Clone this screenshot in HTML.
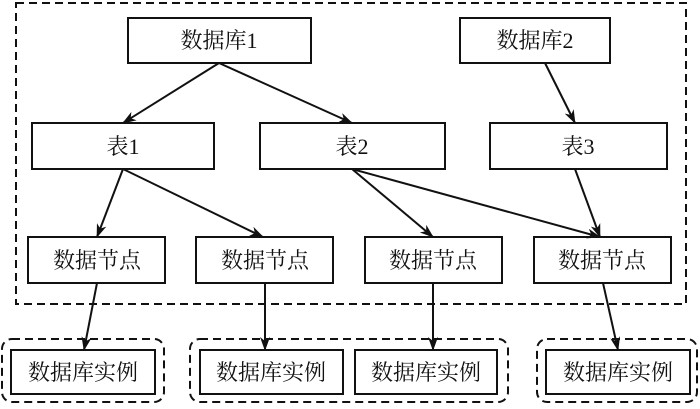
<!DOCTYPE html>
<html><head><meta charset="utf-8"><style>
html,body{margin:0;padding:0;background:#fff;}
text{font-family:"Liberation Serif","Noto Serif CJK SC",serif;font-size:22px;fill:#111;}
</style></head><body>
<svg width="700" height="404" viewBox="0 0 700 404" xmlns="http://www.w3.org/2000/svg">
<defs><marker id="a" markerWidth="14" markerHeight="10" refX="13" refY="5" orient="auto" markerUnits="userSpaceOnUse"><path d="M0,0 L14,5 L0,10 L4,5 Z" fill="#111"/></marker></defs>
<g fill="none" stroke="#111" stroke-width="2" stroke-dasharray="8,5">
<rect x="16" y="3" width="670" height="301"/>
<rect x="2" y="339" width="162" height="63" rx="10"/>
<rect x="190" y="339" width="318" height="63" rx="10"/>
<rect x="537" y="339" width="160" height="63" rx="10"/>
</g>
<g fill="#fff" stroke="#111" stroke-width="2">
<rect x="128" y="18" width="183" height="45"/>
<rect x="460" y="18" width="150" height="45"/>
<rect x="32" y="123" width="182" height="46"/>
<rect x="260" y="123" width="185" height="46"/>
<rect x="490" y="123" width="177" height="46"/>
<rect x="28" y="237" width="137" height="46"/>
<rect x="196" y="237" width="137" height="46"/>
<rect x="365" y="237" width="137" height="46"/>
<rect x="534" y="237" width="137" height="46"/>
<rect x="11" y="350" width="144" height="44"/>
<rect x="200" y="350" width="143" height="44"/>
<rect x="355" y="350" width="142" height="44"/>
<rect x="546" y="350" width="144" height="44"/>
</g>
<g stroke="#111" stroke-width="2" marker-end="url(#a)">
<line x1="219" y1="63" x2="123" y2="123"/>
<line x1="219" y1="63" x2="352" y2="123"/>
<line x1="545" y1="63" x2="575" y2="123"/>
<line x1="123" y1="169" x2="97" y2="237"/>
<line x1="123" y1="169" x2="263" y2="237"/>
<line x1="352" y1="169" x2="433" y2="237"/>
<line x1="352" y1="169" x2="600" y2="237"/>
<line x1="575" y1="169" x2="600" y2="237"/>
<line x1="97" y1="283" x2="84" y2="350"/>
<line x1="265" y1="283" x2="265" y2="350"/>
<line x1="433" y1="283" x2="433" y2="350"/>
<line x1="603" y1="283" x2="618" y2="350"/>
</g>
<g text-anchor="middle">
<text x="219" y="48">数据库1</text>
<text x="535" y="48">数据库2</text>
<text x="123" y="154">表1</text>
<text x="352" y="154">表2</text>
<text x="578" y="154">表3</text>
<text x="97" y="268">数据节点</text>
<text x="265" y="268">数据节点</text>
<text x="433" y="268">数据节点</text>
<text x="602" y="268">数据节点</text>
<text x="83" y="380">数据库实例</text>
<text x="271" y="380">数据库实例</text>
<text x="426" y="380">数据库实例</text>
<text x="618" y="380">数据库实例</text>
</g>
</svg>
</body></html>
